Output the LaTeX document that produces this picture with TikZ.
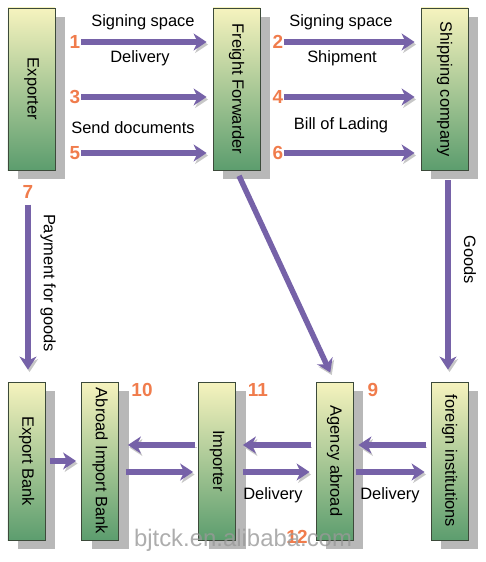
\documentclass[tikz,border=0pt]{standalone}
\usepackage{fontspec}
\setmainfont{Liberation Sans}
\usetikzlibrary{arrows.meta,shadows}
\definecolor{boxtop}{RGB}{246,243,190}
\definecolor{boxmid}{RGB}{196,219,152}
\definecolor{boxbot}{RGB}{92,157,110}
\definecolor{boxline}{RGB}{60,74,58}
\definecolor{arrcol}{RGB}{118,98,168}
\definecolor{numcol}{RGB}{240,124,76}
\begin{document}
\begin{tikzpicture}[x=1bp,y=-1bp]
		\tikzset{bx/.style={rectangle, draw=boxline, line width=0.8bp, top color=boxtop, middle color=boxmid, bottom color=boxbot, minimum width=47bp, minimum height=162bp, inner sep=0pt, font=\fontsize{16.5}{19}\selectfont, drop shadow={shadow xshift=10bp, shadow yshift=-9bp, fill=black!28, opacity=1}}};
		\tikzset{bxs/.style={bx, minimum width=37bp, minimum height=158bp}};
		\tikzset{nm/.style={text=numcol, inner sep=1bp, font=\bfseries\fontsize{19}{21}\selectfont}};
		\tikzset{lbl/.style={inner sep=1bp, font=\fontsize{16.5}{19}\selectfont}};
		\tikzset{arr/.style={draw=arrcol, line width=5.5bp, -{Stealth[length=13bp, width=17bp, inset=4bp]}, preaction={draw=black!22, transform canvas={shift={(1.5bp,-2.5bp)}}}}};

		\useasboundingbox (0,0) rectangle (486,562);

		\node[bx] (exp) at (31.5, 89) {\rotatebox{-90}{Exporter}};
		\node[bx] (ff) at (236.5, 89) {\rotatebox{-90}{Freight Forwarder}};
		\node[bx] (ship) at (444.5, 89) {\rotatebox{-90}{Shipping company}};
		\node[bxs] (eb) at (26.5, 461) {\rotatebox{-90}{Export Bank}};
		\node[bxs] (aib) at (100, 461) {\rotatebox{-90}{Abroad Import Bank}};
		\node[bxs] (imp) at (217, 461) {\rotatebox{-90}{Importer}};
		\node[bxs] (agency) at (334.5, 461) {\rotatebox{-90}{Agency abroad}};
		\node[bxs] (foreign) at (449.5, 461) {\rotatebox{-90}{foreign institutions}};

		\node[nm] (n1) at (75, 42) {1};
		\node[nm] (n3) at (75, 97) {3};
		\node[nm] (n5) at (75, 153) {5};
		\node[nm] (n2) at (278, 42) {2};
		\node[nm] (n4) at (278, 97) {4};
		\node[nm] (n6) at (278, 153) {6};
		\node[nm] (n7) at (28, 192) {7};
		\node[nm] (n10) at (142, 390) {10};
		\node[nm] (n11) at (258, 390) {11};
		\node[nm] (n9) at (373, 390) {9};
		\node[nm] (n12) at (297, 537) {12};

		\node[lbl] (ss1) at (143, 22) {Signing space};
		\node[lbl] (dl1) at (140, 58) {Delivery};
		\node[lbl] (sd) at (133, 128) {Send documents};
		\node[lbl] (ss2) at (341, 22) {Signing space};
		\node[lbl] (sh) at (342, 58) {Shipment};
		\node[lbl] (bl) at (341, 125) {Bill of Lading};
		\node[lbl] (pay) at (48, 283) {\rotatebox{-90}{Payment for goods}};
		\node[lbl] (gd) at (470, 260) {\rotatebox{-90}{Goods}};
		\node[lbl] (dl2) at (273, 495) {Delivery};
		\node[lbl] (dl3) at (390, 495) {Delivery};

		\coordinate (up) at (0, 445);
		\coordinate (dn) at (0, 472);

		\draw[arr, shorten >=6bp] (n1.east) to (ff.west |- n1);
		\draw[arr, shorten >=6bp] (n3.east) to (ff.west |- n3);
		\draw[arr, shorten >=6bp] (n5.east) to (ff.west |- n5);
		\draw[arr, shorten >=6bp] (n2.east) to (ship.west |- n2);
		\draw[arr, shorten >=6bp] (n4.east) to (ship.west |- n4);
		\draw[arr, shorten >=6bp] (n6.east) to (ship.west |- n6);

		\draw[arr, shorten <=5bp, shorten >=12bp] (n7.south) to (n7 |- eb.north);
		\draw[arr, shorten <=6bp, shorten >=10bp] (ff.south) to (agency.north);
		\draw[arr, shorten <=10bp, shorten >=12bp] ([xshift=3.5bp]ship.south) to ([xshift=3.5bp]ship.south |- foreign.north);

		\draw[arr, shorten <=5bp, shorten >=5bp] (eb.east) to (aib.west);
		\draw[arr, shorten <=3bp, shorten >=9bp] (imp.west |- up) to (aib.east |- up);
		\draw[arr, shorten <=7bp, shorten >=5bp] (aib.east |- dn) to (imp.west |- dn);
		\draw[arr, shorten <=5bp, shorten >=7bp] (agency.west |- up) to (imp.east |- up);
		\draw[arr, shorten <=7bp, shorten >=6bp] (imp.east |- dn) to (agency.west |- dn);
		\draw[arr, shorten <=5bp, shorten >=5bp] (foreign.west |- up) to (agency.east |- up);
		\draw[arr, shorten <=3bp, shorten >=6bp] (agency.east |- dn) to (foreign.west |- dn);

		\node[text=black!40, opacity=0.8, font=\fontsize{24}{26}\selectfont] (wm) at (243, 540) {bjtck.en.alibaba.com};

	\end{tikzpicture}
\end{document}
